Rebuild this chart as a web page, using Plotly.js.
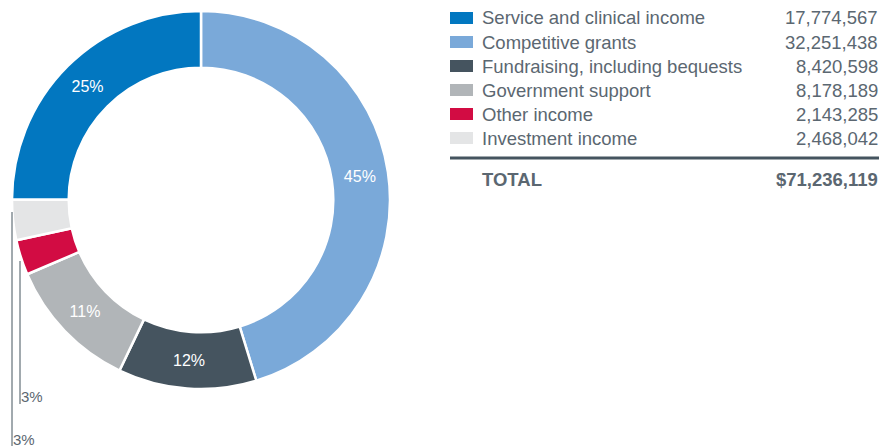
<!DOCTYPE html>
<html>
<head>
<meta charset="utf-8">
<script src="https://cdn.plot.ly/plotly-3.0.1.min.js"></script>
<style>html,body{margin:0;padding:0;background:#fff;}#chart{width:880px;height:448px;}</style>
</head>
<body>
<div id="chart"></div>
<script>
// Data (table order)
const categories = ["Service and clinical income","Competitive grants","Fundraising, including bequests","Government support","Other income","Investment income"];
const values = [17774567, 32251438, 8420598, 8178189, 2143285, 2468042];
const colors = ["#0277c0","#7aa9d9","#45545f","#b1b5b8","#d20c43","#e4e5e6"];
// Donut order (clockwise from 12 o'clock)
const donutOrder = [1, 2, 3, 4, 5, 0];
const totalLabel = "TOTAL";

const W = 880, H = 448;
const textColor = "#5b6771";
const fontFam = "Arial, 'Liberation Sans', sans-serif";

const pLabels = donutOrder.map(i => categories[i]);
const pValues = donutOrder.map(i => values[i]);
const pColors = donutOrder.map(i => colors[i]);
const total = values.reduce((a, b) => a + b, 0);
const pTextPos = pValues.map(v => v / total < 0.05 ? "none" : "inside");

const trace = {
  type: "pie",
  labels: pLabels,
  values: pValues,
  sort: false,
  direction: "clockwise",
  rotation: 0,
  hole: 0.70,
  marker: {colors: pColors, line: {color: "#ffffff", width: 2.5}},
  textinfo: "percent",
  texttemplate: "%{percent:.0%}",
  textposition: pTextPos,
  insidetextorientation: "horizontal",
  insidetextfont: {color: "#ffffff", size: 16, family: fontFam},
  showlegend: false,
  hoverinfo: "label+value+percent",
  domain: {x: [12 / W, 390 / W], y: [1 - 389 / H, 1 - 11 / H]}
};

const annotations = [];
const shapes = [];
const px = x => x / W;
const py = y => 1 - y / H;

// Legend table
const rowY0 = 18, rowStep = 24;
categories.forEach((c, i) => {
  const y = rowY0 + i * rowStep;
  shapes.push({type: "rect", xref: "paper", yref: "paper",
    x0: px(450), x1: px(473), y0: py(y + 6), y1: py(y - 6),
    fillcolor: colors[i], line: {width: 0}});
  annotations.push({xref: "paper", yref: "paper", x: px(480), y: py(y),
    xanchor: "left", yanchor: "middle", showarrow: false, text: c,
    font: {family: fontFam, size: 18.5, color: textColor}});
  annotations.push({xref: "paper", yref: "paper", x: px(880), y: py(y),
    xanchor: "right", yanchor: "middle", showarrow: false,
    text: values[i].toLocaleString("en-US"),
    font: {family: fontFam, size: 18.5, color: textColor}});
});
shapes.push({type: "line", xref: "paper", yref: "paper",
  x0: px(450), x1: px(879), y0: py(158), y1: py(158),
  line: {color: "#45545f", width: 3}});
annotations.push({xref: "paper", yref: "paper", x: px(480), y: py(179),
  xanchor: "left", yanchor: "middle", showarrow: false, text: "<b>" + totalLabel + "</b>",
  font: {family: fontFam, size: 18.5, color: textColor}});
annotations.push({xref: "paper", yref: "paper", x: px(880), y: py(179),
  xanchor: "right", yanchor: "middle", showarrow: false,
  text: "<b>$" + total.toLocaleString("en-US") + "</b>",
  font: {family: fontFam, size: 18.5, color: textColor}});

// Small-slice labels with leader lines
const smallIdx = pValues.map((v, i) => i).filter(i => pTextPos[i] === "none");
const leader = {
  "Other income": {x: 20, y0: 261, y1: 404, ty: 396},
  "Investment income": {x: 12, y0: 212, y1: 446, ty: 439}
};
smallIdx.forEach(i => {
  const L = leader[pLabels[i]];
  if (!L) return;
  shapes.push({type: "line", xref: "paper", yref: "paper",
    x0: px(L.x), x1: px(L.x), y0: py(L.y0), y1: py(L.y1),
    line: {color: "#45545f", width: 1}});
  annotations.push({xref: "paper", yref: "paper", x: px(L.x - 1), y: py(L.ty),
    xanchor: "left", yanchor: "middle", showarrow: false,
    text: Math.round(pValues[i] / total * 100) + "%",
    font: {family: fontFam, size: 15, color: textColor}});
});

const layout = {
  width: W, height: H,
  margin: {l: 0, r: 0, t: 0, b: 0},
  paper_bgcolor: "#ffffff",
  plot_bgcolor: "#ffffff",
  font: {family: fontFam},
  annotations: annotations,
  shapes: shapes
};

Plotly.newPlot("chart", [trace], layout, {displayModeBar: false, staticPlot: true});
</script>
</body>
</html>
